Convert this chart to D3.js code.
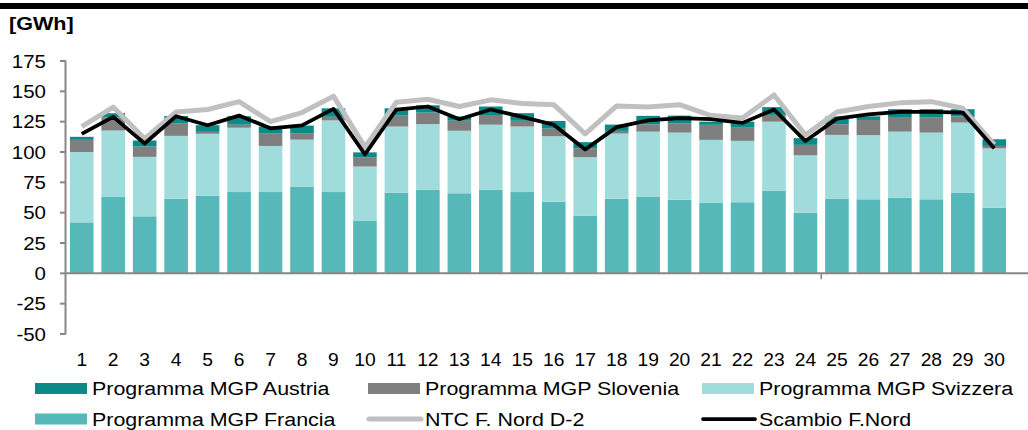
<!DOCTYPE html>
<html>
<head>
<meta charset="utf-8">
<script src="https://cdn.jsdelivr.net/npm/d3@7"></script>
<style>
  body { margin: 0; background: #fff; }
  svg { display: block; font-family: "Liberation Sans", Arial, sans-serif; }
</style>
</head>
<body>
<div id="chart"></div>
<script>
/****************************************/
/*****  Data   *****/
/****************************************/
const days = d3.range(1, 31).map(String);

const mgpFrancia = [42, 63, 47, 61.5, 64, 67, 67, 71.5, 67, 43.5, 66.5, 69, 66, 69, 67, 59, 47.3, 61.5, 63, 60.7, 58, 58.6, 68, 50, 61.6, 61, 62.4, 61, 66.3, 54];
const mgpSvizzera = [58, 54.7, 49, 51.8, 51, 53, 38, 38.7, 59, 44.5, 54.5, 54, 51.5, 53.5, 54, 54, 48.4, 53.7, 53.8, 55.3, 52, 50.6, 57, 47.3, 52.5, 53, 54.4, 55, 58, 49];
const mgpSlovenia = [10, 10.8, 8.5, 10.4, 1.6, 2.5, 10.5, 5.3, 3, 7.7, 9, 9.5, 8.3, 8, 4.7, 6.3, 7.4, 2.2, 6, 7.7, 12.4, 11.3, 5.6, 8.6, 8.8, 12.4, 12, 12.7, 5, 2];
const mgpAustria = [2.5, 3.5, 5, 6, 5.5, 7, 5.5, 6.3, 7, 4, 6, 6, 3.5, 7, 6.3, 6.3, 5, 5.2, 7, 6.3, 2.6, 4.5, 6.4, 5.5, 6.3, 3, 6.5, 6.6, 6, 5.5];

const ntcNord = [121, 137, 111, 133, 135, 141.5, 125, 132.5, 146, 104, 141, 143.5, 137.5, 143, 140, 139, 115, 138, 137, 139, 130, 128, 147, 114, 133, 137.5, 140.5, 141.5, 136, 106];
const scambioNord = [115, 129, 107, 129.5, 122, 130, 119.5, 122, 135.5, 98, 135, 137.5, 127, 135, 129, 122.5, 102, 120.5, 126, 128, 127, 124, 135, 109, 127.5, 131, 133, 133, 132.5, 103];

const yTicks = [-50, -25, 0, 25, 50, 75, 100, 125, 150, 175];

/****************************************/
/*****  Setup   *****/
/****************************************/
const width = 1028;
const height = 430;
const textStretch = 1.17; // the reference text is slightly wide

const colors = {
  austria: '#0b8a87',
  slovenia: '#7f7f7f',
  svizzera: '#a0dcdb',
  francia: '#57b8b9',
  ntc: '#c0c0c0',
  scambio: '#000000'
};

const svg = d3.select('#chart')
  .append('svg')
    .attr('viewBox', [0, 0, width, height])
    .attr('width', width)
    .attr('height', height);

// Black band on top
svg.append('rect')
    .attr('x', 0)
    .attr('y', 3)
    .attr('width', width)
    .attr('height', 6)
    .attr('fill', '#000');

// Unit label
svg.append('text')
    .attr('transform', `translate(9,30) scale(1.2,1)`)
    .attr('font-size', 18)
    .attr('font-weight', 'bold')
    .attr('fill', '#000')
    .text('[GWh]');

const x = d3.scaleBand()
  .domain(days)
  .range([66, 1010])
  .paddingInner(0.25)
  .paddingOuter(0.125);

const y = d3.scaleLinear()
  .domain([-50, 175])
  .range([334, 61]);

/****************************************/
/*****  Stacked bars   *****/
/****************************************/
const stackKeys = ['francia', 'svizzera', 'slovenia', 'austria'];
const table = days.map((d, i) => ({
  day: d,
  francia: mgpFrancia[i],
  svizzera: mgpSvizzera[i],
  slovenia: mgpSlovenia[i],
  austria: mgpAustria[i]
}));
const series = d3.stack().keys(stackKeys)(table);

svg.append('g')
    .attr('class', 'bars-group')
  .selectAll('g')
  .data(series)
  .join('g')
    .attr('fill', d => colors[d.key])
  .selectAll('rect')
  .data(d => d)
  .join('rect')
    .attr('x', d => x(d.data.day))
    .attr('y', d => y(d[1]))
    .attr('width', x.bandwidth())
    .attr('height', d => y(d[0]) - y(d[1]));

/****************************************/
/*****  Axes   *****/
/****************************************/
const axisColor = '#878787';

// Y axis line and ticks
svg.append('line')
    .attr('x1', 65.5)
    .attr('x2', 65.5)
    .attr('y1', y(175))
    .attr('y2', y(-50))
    .attr('stroke', axisColor)
    .attr('stroke-width', 2);

svg.append('g')
  .selectAll('line')
  .data(yTicks)
  .join('line')
    .attr('x1', 60)
    .attr('x2', 66)
    .attr('y1', d => y(d))
    .attr('y2', d => y(d))
    .attr('stroke', axisColor)
    .attr('stroke-width', 2);

svg.append('g')
  .selectAll('text')
  .data(yTicks)
  .join('text')
    .attr('transform', d => `translate(46,${y(d) + 6.5}) scale(${textStretch},1)`)
    .attr('text-anchor', 'end')
    .attr('font-size', 17.5)
    .attr('fill', '#000')
    .text(d => d);

// X axis line at zero
svg.append('line')
    .attr('x1', 65)
    .attr('x2', width)
    .attr('y1', y(0))
    .attr('y2', y(0))
    .attr('stroke', axisColor)
    .attr('stroke-width', 2);

// lone category tick visible in the reference
svg.append('line')
    .attr('x1', x('25') - x.step() * 0.125)
    .attr('x2', x('25') - x.step() * 0.125)
    .attr('y1', y(0))
    .attr('y2', y(0) + 6)
    .attr('stroke', axisColor)
    .attr('stroke-width', 1.5);

svg.append('g')
  .selectAll('text')
  .data(days)
  .join('text')
    .attr('transform', d => `translate(${x(d) + x.bandwidth() / 2},366) scale(1.1,1)`)
    .attr('text-anchor', 'middle')
    .attr('font-size', 17.5)
    .attr('fill', '#000')
    .text(d => d);

/****************************************/
/*****  Lines   *****/
/****************************************/
const lineGen = d3.line()
  .x((d, i) => x(days[i]) + x.bandwidth() / 2)
  .y(d => y(d));

svg.append('path')
    .datum(ntcNord)
    .attr('d', lineGen)
    .attr('fill', 'none')
    .attr('stroke', colors.ntc)
    .attr('stroke-width', 5)
    .attr('stroke-linejoin', 'round');

svg.append('path')
    .datum(scambioNord)
    .attr('d', lineGen)
    .attr('fill', 'none')
    .attr('stroke', colors.scambio)
    .attr('stroke-width', 3.75)
    .attr('stroke-linejoin', 'round');

/****************************************/
/*****  Legend   *****/
/****************************************/
const legendItems = [
  { label: 'Programma MGP Austria', color: colors.austria, type: 'rect' },
  { label: 'Programma MGP Slovenia', color: colors.slovenia, type: 'rect' },
  { label: 'Programma MGP Svizzera', color: colors.svizzera, type: 'rect' },
  { label: 'Programma MGP Francia', color: colors.francia, type: 'rect' },
  { label: 'NTC F. Nord D-2', color: colors.ntc, type: 'line', w: 5 },
  { label: 'Scambio F.Nord', color: colors.scambio, type: 'line', w: 3.75 }
];
const legendCols = [35, 368, 702];
const legendRows = [388.5, 419];

const legend = svg.append('g')
  .selectAll('g')
  .data(legendItems)
  .join('g')
    .attr('transform', (d, i) => `translate(${legendCols[i % 3]},${legendRows[Math.floor(i / 3)]})`);

legend.filter(d => d.type === 'rect')
  .append('rect')
    .attr('x', 0)
    .attr('y', -5.5)
    .attr('width', 52)
    .attr('height', 11)
    .attr('fill', d => d.color);

legend.filter(d => d.type === 'line')
  .append('line')
    .attr('x1', 1)
    .attr('x2', 53)
    .attr('y1', 0)
    .attr('y2', 0)
    .attr('stroke', d => d.color)
    .attr('stroke-width', d => d.w)
    .attr('stroke-linecap', 'round');

legend.append('text')
    .attr('transform', `translate(57,6.8) scale(1.19,1)`)
    .attr('font-size', 18)
    .attr('fill', '#000')
    .text(d => d.label);
</script>
</body>
</html>
